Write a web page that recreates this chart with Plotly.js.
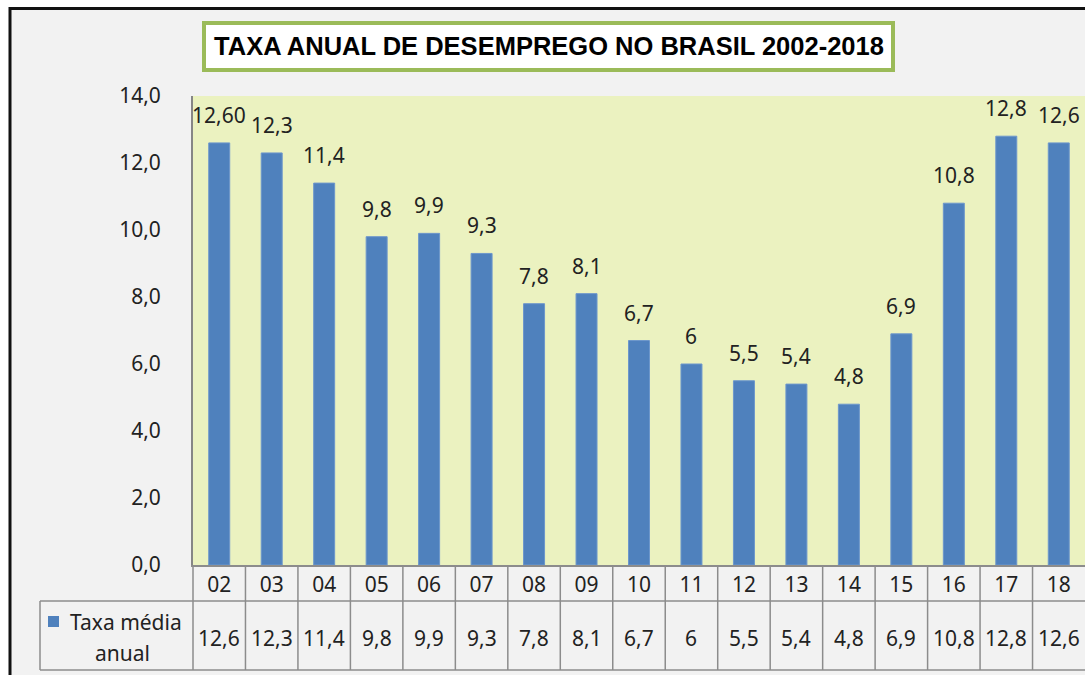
<!DOCTYPE html>
<html>
<head>
<meta charset="utf-8">
<script src="https://cdn.plot.ly/plotly-3.0.1.min.js"></script>
<style>html,body{margin:0;padding:0;background:#fff;}#chart{width:1085px;height:675px;}</style>
</head>
<body>
<div id="chart"></div>
<script>
// ---- data ----
var categories = ["02","03","04","05","06","07","08","09","10","11","12","13","14","15","16","17","18"];
var values = [12.6,12.3,11.4,9.8,9.9,9.3,7.8,8.1,6.7,6.0,5.5,5.4,4.8,6.9,10.8,12.8,12.6];
var barLabels = ["12,60","12,3","11,4","9,8","9,9","9,3","7,8","8,1","6,7","6","5,5","5,4","4,8","6,9","10,8","12,8","12,6"];
var tableValues = ["12,6","12,3","11,4","9,8","9,9","9,3","7,8","8,1","6,7","6","5,5","5,4","4,8","6,9","10,8","12,8","12,6"];
var seriesNameLines = ["Taxa média","anual"];
var chartTitle = "TAXA ANUAL DE DESEMPREGO NO BRASIL 2002-2018";

// ---- layout helpers (pixel -> paper) ----
var L = 193, R = 1085, T = 96, B = 565;
function px(X){ return (X - L) / (R - L); }
function py(Y){ return (B - Y) / (B - T); }

var FONT = "Noto Sans, DejaVu Sans, sans-serif";
var gridCol = "#8c8c8c";
var shapes = [];
var annotations = [];

// outer white margins + black frame
shapes.push({type:"rect", xref:"paper", yref:"paper", x0:px(-5), x1:px(10), y0:py(680), y1:py(-5), fillcolor:"#ffffff", line:{width:0}, layer:"above"});
shapes.push({type:"rect", xref:"paper", yref:"paper", x0:px(-5), x1:px(1090), y0:py(8), y1:py(-5), fillcolor:"#ffffff", line:{width:0}, layer:"above"});
shapes.push({type:"line", xref:"paper", yref:"paper", x0:px(10), x1:px(10), y0:py(7), y1:py(680), line:{color:"#111", width:3}, layer:"above"});
shapes.push({type:"line", xref:"paper", yref:"paper", x0:px(9), x1:px(1090), y0:py(8.5), y1:py(8.5), line:{color:"#111", width:3}, layer:"above"});

// title box
shapes.push({type:"rect", xref:"paper", yref:"paper", x0:px(204), x1:px(893), y0:py(70), y1:py(23), fillcolor:"#ffffff", line:{color:"#9BBB59", width:4}, layer:"above"});

// data table grid
var rowMid = 601, rowBot = 670;
shapes.push({type:"line", xref:"paper", yref:"paper", x0:px(40), x1:px(1090), y0:py(rowMid), y1:py(rowMid), line:{color:gridCol, width:1.5}, layer:"above"});
shapes.push({type:"line", xref:"paper", yref:"paper", x0:px(40), x1:px(1090), y0:py(rowBot), y1:py(rowBot), line:{color:gridCol, width:1.5}, layer:"above"});
shapes.push({type:"line", xref:"paper", yref:"paper", x0:px(40), x1:px(40), y0:py(rowMid), y1:py(rowBot), line:{color:gridCol, width:1.5}, layer:"above"});
shapes.push({type:"line", xref:"paper", yref:"paper", x0:px(L), x1:px(L), y0:py(B), y1:py(rowBot), line:{color:gridCol, width:1.5}, layer:"above"});
for (var i = 0; i < categories.length - 1; i++) {
  shapes.push({type:"line", xref:"x", yref:"paper", x0:i+0.5, x1:i+0.5, y0:py(B), y1:py(rowBot), line:{color:gridCol, width:1.5}, layer:"above"});
}
// legend key
shapes.push({type:"rect", xref:"paper", yref:"paper", x0:px(48), x1:px(59), y0:py(627), y1:py(616), fillcolor:"#4F81BD", line:{width:0}, layer:"above"});
annotations.push({xref:"paper", yref:"paper", x:px(126), y:py(622), text:seriesNameLines[0], showarrow:false, xanchor:"center", yanchor:"middle", font:{family:FONT, size:21, color:"#222"}});
annotations.push({xref:"paper", yref:"paper", x:px(122), y:py(653), text:seriesNameLines[1], showarrow:false, xanchor:"center", yanchor:"middle", font:{family:FONT, size:21, color:"#222"}});

// table values + bar labels (category index positions)
for (var j = 0; j < categories.length; j++) {
  annotations.push({xref:"x", yref:"paper", x:j, y:py(638), text:tableValues[j], showarrow:false, xanchor:"center", yanchor:"middle", font:{family:FONT, size:21, color:"#222"}});
  annotations.push({xref:"x", yref:"y", x:j, y:values[j], text:barLabels[j], showarrow:false, xanchor:"center", yanchor:"bottom", yshift:12, font:{family:FONT, size:21, color:"#222"}});
}

var trace = {
  type:"bar", x:categories, y:values, width:0.4,
  marker:{color:"#4F81BD", line:{color:"#6d97cc", width:1}},
  hoverinfo:"none", showlegend:false
};

var layout = {
  width:1085, height:675,
  margin:{l:L, r:1085-R, t:T, b:675-B, pad:0},
  paper_bgcolor:"#F2F2F2",
  plot_bgcolor:"#EBF2C0",
  separators:",.",
  showlegend:false,
  title:{text:"<b>"+chartTitle+"</b>", x:549/1085, xanchor:"center", y:1-46/675, yanchor:"middle", font:{family:"Liberation Sans, Arial, sans-serif", size:25.5, color:"#000"}},
  xaxis:{type:"category", categoryorder:"array", categoryarray:categories, range:[-0.5, categories.length-0.5], autorange:false, showgrid:false, zeroline:false, showline:true, linecolor:gridCol, linewidth:1.5, ticks:"", ticklabelstandoff:0, tickfont:{family:FONT, size:21, color:"#222"}, fixedrange:true},
  yaxis:{range:[0,14], autorange:false, dtick:2, tick0:0, tickformat:".1f", showgrid:false, zeroline:false, showline:true, linecolor:"#868686", linewidth:2, ticks:"", ticklabelstandoff:26, tickfont:{family:FONT, size:21, color:"#222"}, fixedrange:true},
  shapes:shapes,
  annotations:annotations
};

Plotly.newPlot("chart", [trace], layout, {staticPlot:true, displayModeBar:false});
</script>
</body>
</html>
